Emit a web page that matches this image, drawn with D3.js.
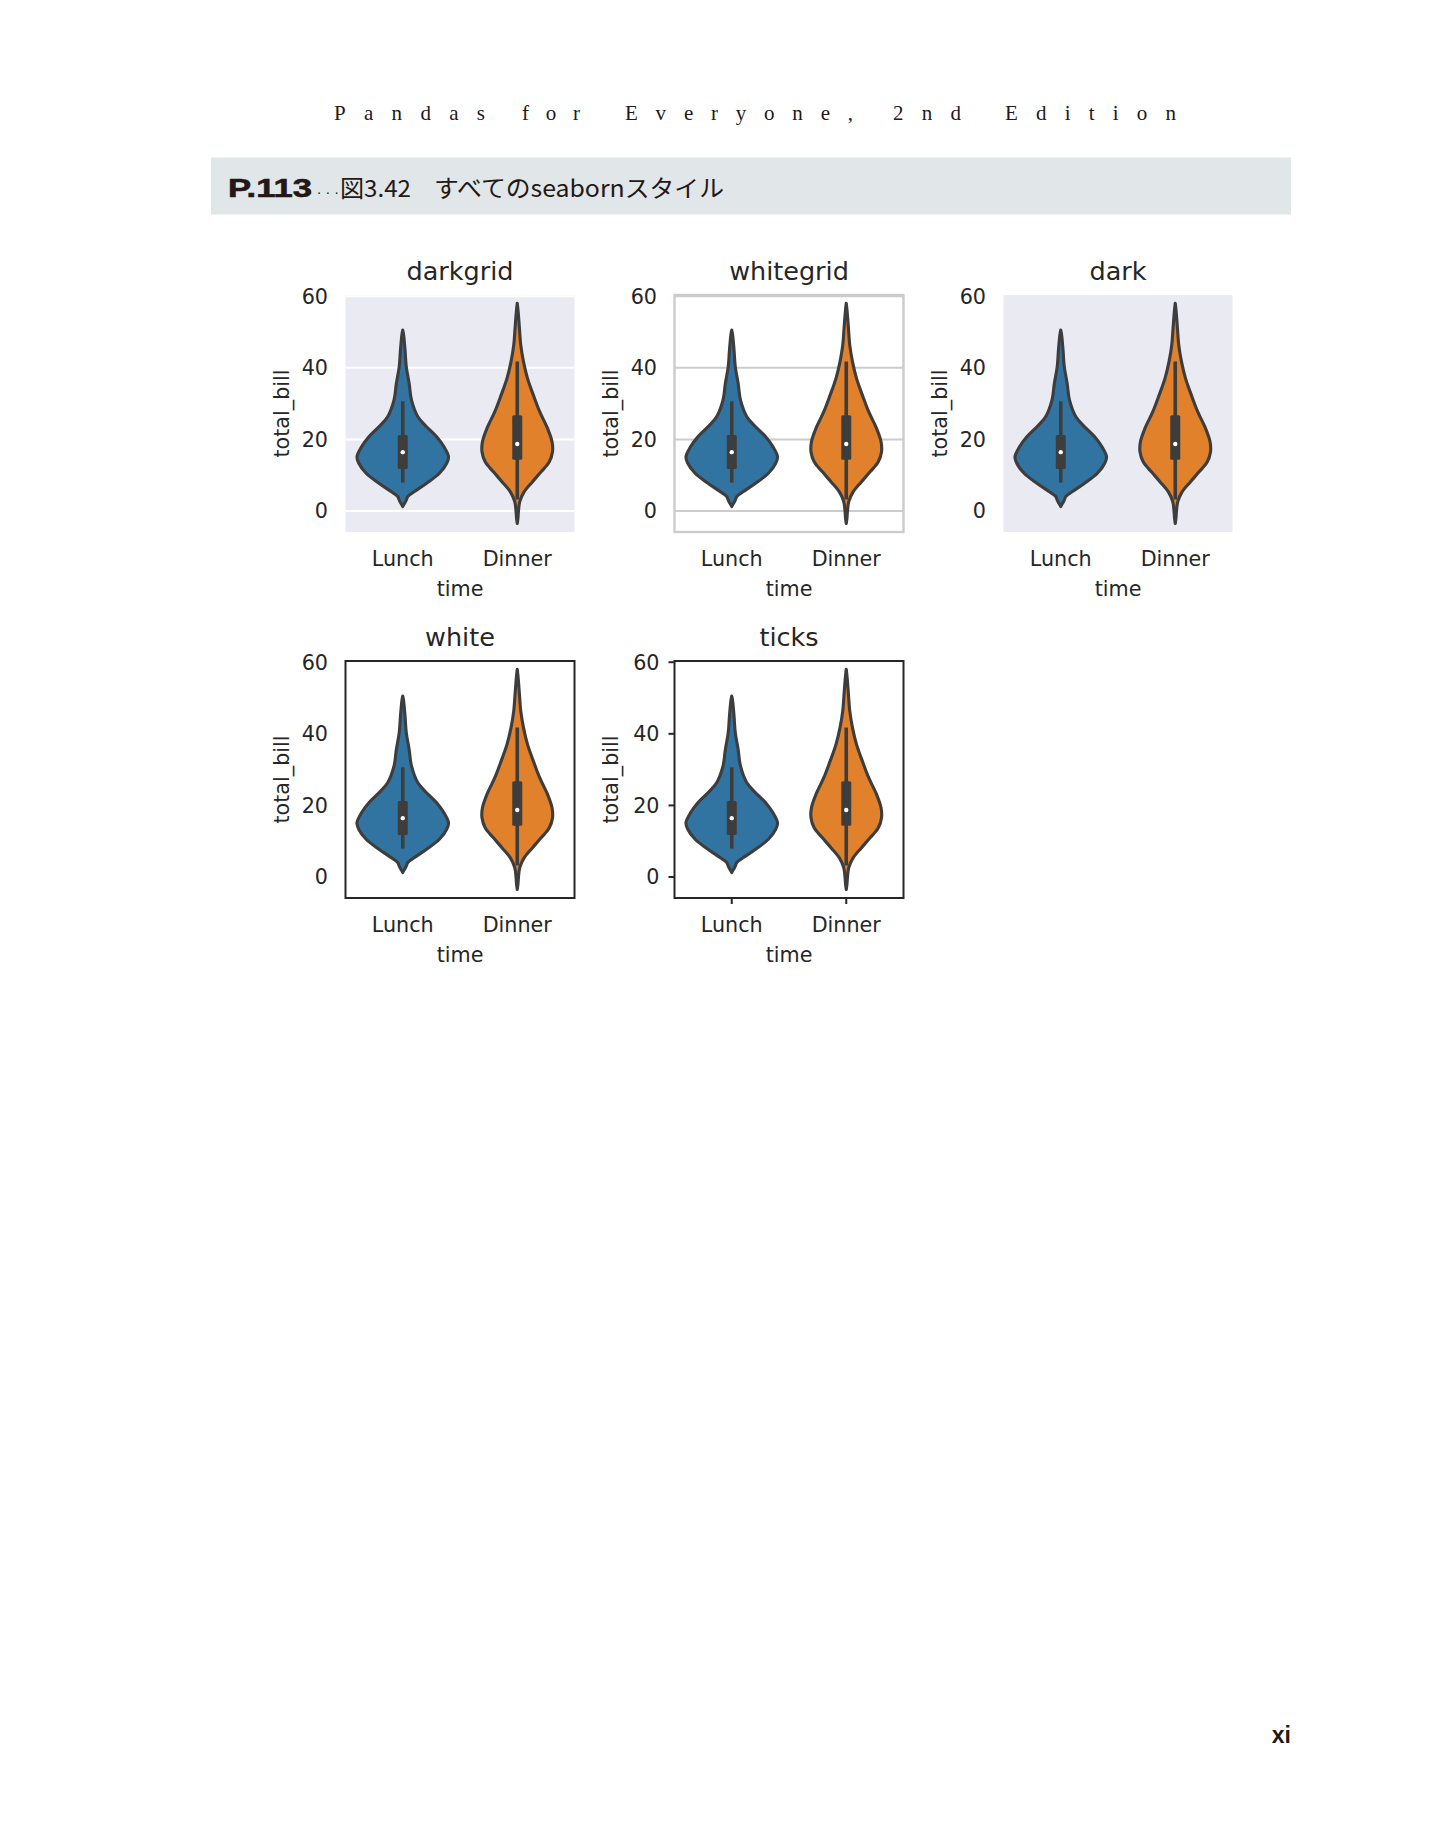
<!DOCTYPE html>
<html>
<head>
<meta charset="utf-8">
<script src="https://cdn.jsdelivr.net/npm/d3@7"></script>
<style>
  body { margin: 0; background: #ffffff; }
</style>
</head>
<body>
<div id="canvas"></div>
<script>
"use strict"

// panels, in the order they appear on the page
let styles = ["darkgrid", "whitegrid", "dark", "white", "ticks"]
let times = ["Lunch", "Dinner"]
let yTicks = [0, 20, 40, 60]

// violin outlines: total_bill level -> relative width (1 = widest violin)
let lunchBill = [50.4, 49.0, 44.8, 40.2, 35.5, 30.9, 26.2, 23.4, 20.6, 17.8, 15.0, 13.2, 10.4, 7.6, 5.7, 3.9, 2.9, 2.0, 1.1]
let lunchDensity = [0, 0.02, 0.05, 0.077, 0.14, 0.19, 0.33, 0.52, 0.74, 0.90, 1.0, 0.96, 0.80, 0.52, 0.30, 0.11, 0.077, 0.04, 0]
let dinnerBill = [57.9, 55.5, 50.9, 46.2, 41.6, 36.9, 32.3, 27.6, 23.0, 19.2, 16.4, 13.6, 10.8, 8.0, 5.2, 2.5, -0.3, -2.2, -3.6]
let dinnerDensity = [0, 0.02, 0.048, 0.077, 0.136, 0.224, 0.35, 0.49, 0.66, 0.76, 0.77, 0.70, 0.52, 0.33, 0.15, 0.055, 0.026, 0.015, 0]

// inner box plot, one value per time
let whiskerLow = [7.8, 3.1]
let q1 = [11.6, 14.2]
let median = [16.3, 18.6]
let q3 = [21.1, 26.6]
let whiskerHigh = [30.5, 41.6]

let colors = ["#3274a1", "#e1812c"]

// running header, one word at a time: [word, left edge, width]
let headerWords = [
    ["Pandas", 334, 151],
    ["for", 522, 58],
    ["Everyone,", 625, 228],
    ["2nd", 893, 68],
    ["Edition", 1005, 171]
]

let svgWidth = 1433
let svgHeight = 1827

let svg = d3.select("#canvas")
    .append("svg")
    .attr("width", svgWidth)
    .attr("height", svgHeight)
    .style("display", "block")

let ink = "#231815"
let axisInk = "#262626"
let lineInk = "#3d3d3d"

/* page header */
svg.selectAll("text.header")
    .data(headerWords)
    .enter()
    .append("text")
    .attr("class", "header")
    .attr("x", d => d[1])
    .attr("y", 120)
    .attr("font-family", "Liberation Serif")
    .attr("font-size", 21)
    .attr("fill", ink)
    .attr("textLength", d => d[2])
    .attr("lengthAdjust", "spacing")
    .text(d => d[0])

/* grey caption band */
svg.append("rect")
    .attr("x", 211)
    .attr("y", 157.5)
    .attr("width", 1080)
    .attr("height", 57)
    .attr("fill", "#e1e6e9")

svg.append("text")
    .attr("x", 228)
    .attr("y", 196.5)
    .attr("font-family", "Liberation Sans")
    .attr("font-weight", "bold")
    .attr("font-size", 25.5)
    .attr("fill", ink)
    .attr("stroke", ink)
    .attr("stroke-width", 0.6)
    .attr("textLength", 84)
    .attr("lengthAdjust", "spacingAndGlyphs")
    .text("P.113")

svg.append("text")
    .attr("x", 308)
    .attr("y", 196.5)
    .attr("font-family", "Liberation Sans")
    .attr("font-size", 14)
    .attr("fill", ink)
    .attr("textLength", 31)
    .attr("lengthAdjust", "spacing")
    .text("····")

svg.append("text")
    .attr("x", 340)
    .attr("y", 196.5)
    .attr("font-family", "Noto Sans CJK JP")
    .attr("font-size", 23.5)
    .attr("fill", ink)
    .attr("textLength", 71)
    .attr("lengthAdjust", "spacingAndGlyphs")
    .text("図3.42")

svg.append("text")
    .attr("x", 434)
    .attr("y", 196.5)
    .attr("font-family", "Noto Sans CJK JP")
    .attr("font-size", 23.5)
    .attr("fill", ink)
    .attr("textLength", 290)
    .attr("lengthAdjust", "spacingAndGlyphs")
    .text("すべてのseabornスタイル")

/* page number */
svg.append("text")
    .attr("x", 1291)
    .attr("y", 1743)
    .attr("text-anchor", "end")
    .attr("font-family", "Liberation Sans")
    .attr("font-weight", "bold")
    .attr("font-size", 23)
    .attr("fill", ink)
    .text("xi")

/* panel grid */
let panelLefts = [345.5, 674.5, 1003.5]
let panelTops = [295, 661]
let panelWidth = 229
let panelHeight = 237

let profiles = [
    lunchBill.map((b, i) => ({ bill: b, density: lunchDensity[i] })),
    dinnerBill.map((b, i) => ({ bill: b, density: dinnerDensity[i] }))
]

styles.forEach(function (style, k) {
    let left = panelLefts[k % 3]
    let top = panelTops[Math.floor(k / 3)]
    drawPanel(style, left, top)
})

function drawPanel(style, left, top) {
    let g = svg.append("g").attr("class", "panel " + style)
    let bottom = top + panelHeight
    let right = left + panelWidth

    let xScale = d3.scaleBand()
        .domain(times)
        .range([left, right])
        .padding(0)

    let yScale = d3.scaleLinear()
        .domain([-6, 60.2])
        .range([bottom, top])

    let widthScale = d3.scaleLinear()
        .domain([0, 1])
        .range([0, 0.4 * xScale.bandwidth()])

    let dark = style === "darkgrid" || style === "dark"
    let hasGrid = style === "darkgrid" || style === "whitegrid"
    let hasTicks = style === "ticks"

    if (dark) {
        g.append("rect")
            .attr("x", left)
            .attr("y", top)
            .attr("width", panelWidth)
            .attr("height", panelHeight)
            .attr("fill", "#eaeaf2")
    }

    // horizontal grid lines
    if (hasGrid) {
        g.append("g")
            .attr("transform", `translate(${left},0)`)
            .call(d3.axisLeft(yScale).tickValues(yTicks).tickSize(-panelWidth).tickFormat(""))
            .call(a => a.select(".domain").remove())
            .call(a => a.selectAll(".tick line")
                .attr("stroke", style === "darkgrid" ? "#ffffff" : "#cccccc")
                .attr("stroke-width", 2))
    }

    // violins
    let area = d3.area()
        .curve(d3.curveCatmullRom)
        .y(d => yScale(d.bill))

    times.forEach(function (t, i) {
        let cx = xScale(t) + xScale.bandwidth() / 2
        area.x0(d => cx - widthScale(d.density))
            .x1(d => cx + widthScale(d.density))

        g.append("path")
            .datum(profiles[i])
            .attr("d", area)
            .attr("fill", colors[i])
            .attr("stroke", lineInk)
            .attr("stroke-width", 3.1)
            .attr("stroke-linejoin", "round")

        // whisker
        g.append("line")
            .attr("x1", cx).attr("x2", cx)
            .attr("y1", yScale(whiskerLow[i]))
            .attr("y2", yScale(whiskerHigh[i]))
            .attr("stroke", lineInk)
            .attr("stroke-width", 3.6)

        // box
        g.append("rect")
            .attr("x", cx - 5)
            .attr("y", yScale(q3[i]))
            .attr("width", 10)
            .attr("height", yScale(q1[i]) - yScale(q3[i]))
            .attr("rx", 1.5)
            .attr("fill", lineInk)

        // median
        g.append("circle")
            .attr("cx", cx)
            .attr("cy", yScale(median[i]))
            .attr("r", 2.2)
            .attr("fill", "#ffffff")
    })

    // spines
    if (!dark) {
        g.append("rect")
            .attr("x", left)
            .attr("y", top)
            .attr("width", panelWidth)
            .attr("height", panelHeight)
            .attr("fill", "none")
            .attr("stroke", style === "whitegrid" ? "#cccccc" : axisInk)
            .attr("stroke-width", style === "whitegrid" ? 2.4 : 2)
    }

    // y axis
    let yAxis = d3.axisLeft(yScale)
        .tickValues(yTicks)
        .tickSize(hasTicks ? 6 : 0)
        .tickPadding(hasTicks ? 9 : 17.5)
    let yg = g.append("g")
        .attr("transform", `translate(${left},0)`)
        .call(yAxis)
    yg.select(".domain").remove()
    yg.selectAll(".tick line").attr("stroke", axisInk).attr("stroke-width", 2)
    yg.selectAll(".tick text")
        .attr("font-family", "DejaVu Sans")
        .attr("font-size", 20.7)
        .attr("fill", axisInk)
        .attr("dy", "0.36em")

    // x axis
    let xAxis = d3.axisBottom(xScale)
        .tickSize(hasTicks ? 6 : 0)
        .tickPadding(0)
    let xg = g.append("g")
        .attr("transform", `translate(0,${bottom})`)
        .call(xAxis)
    xg.select(".domain").remove()
    xg.selectAll(".tick line").attr("stroke", axisInk).attr("stroke-width", 2)
    xg.selectAll(".tick text")
        .attr("y", 34)
        .attr("dy", 0)
        .attr("font-family", "DejaVu Sans")
        .attr("font-size", 20.7)
        .attr("fill", axisInk)

    // labels
    g.append("text")
        .attr("x", (left + right) / 2)
        .attr("y", bottom + 64)
        .attr("text-anchor", "middle")
        .attr("font-family", "DejaVu Sans")
        .attr("font-size", 20.7)
        .attr("fill", axisInk)
        .text("time")

    g.append("text")
        .attr("transform", `translate(${left - 57},${(top + bottom) / 2}) rotate(-90)`)
        .attr("text-anchor", "middle")
        .attr("font-family", "DejaVu Sans")
        .attr("font-size", 20.7)
        .attr("fill", axisInk)
        .text("total_bill")

    g.append("text")
        .attr("x", (left + right) / 2)
        .attr("y", top - 15)
        .attr("text-anchor", "middle")
        .attr("font-family", "DejaVu Sans")
        .attr("font-size", 25.5)
        .attr("fill", axisInk)
        .text(style)
}
</script>
</body>
</html>
